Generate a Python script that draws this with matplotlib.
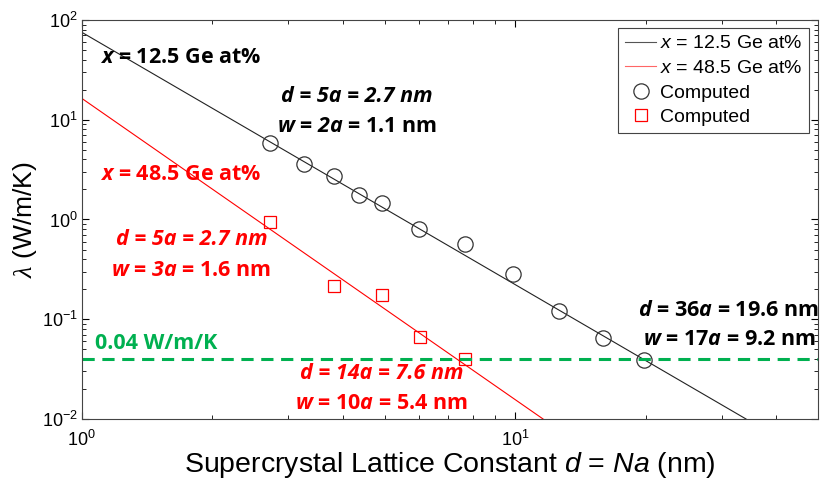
import matplotlib
matplotlib.use('Agg')
import matplotlib.pyplot as plt
from matplotlib.lines import Line2D

plt.rcParams['font.family'] = ['Liberation Sans', 'DejaVu Sans']
plt.rcParams['mathtext.fontset'] = 'custom'
plt.rcParams['mathtext.rm'] = 'Liberation Sans'
plt.rcParams['mathtext.it'] = 'Liberation Serif:italic'
plt.rcParams['mathtext.bf'] = 'Liberation Sans:bold'
plt.rcParams['mathtext.sf'] = 'Open Sans:italic:bold'
plt.rcParams['mathtext.tt'] = 'Liberation Sans:italic'

# computed points, x = 12.5 Ge at%
d_125 = [2.72, 3.26, 3.82, 4.36, 4.92, 6.01, 7.67, 9.89, 12.6, 15.97, 19.8]
k_125 = [5.8, 3.6, 2.7, 1.75, 1.48, 0.80, 0.57, 0.284, 0.121, 0.065, 0.039]
# computed points, x = 48.5 Ge at%
d_485 = [2.72, 3.82, 4.92, 6.03, 7.67]
k_485 = [0.95, 0.217, 0.176, 0.066, 0.040]
# power-law fit lines (end points)
fit_125_d = [1.0, 34.1]
fit_125_k = [75.4, 0.01]
fit_485_d = [1.0, 11.6]
fit_485_k = [16.4, 0.01]
target = 0.04

RED = '#ff0000'
GREEN = '#00b050'

fig = plt.figure(figsize=(8.27, 4.84), dpi=100)
ax = fig.add_axes([0.0988, 0.1343, 0.8904, 0.8244])

ax.plot(fit_125_d, fit_125_k, color='#222222', lw=0.8)
ax.plot(fit_485_d, fit_485_k, color=RED, lw=0.8)
ax.plot(d_125, k_125, 'o', ms=11, mfc='none', mec='#333333', mew=0.9)
ax.plot(d_485, k_485, 's', ms=9, mfc='none', mec=RED, mew=0.9)
ax.axhline(target, color=GREEN, lw=2.2, ls=(0, (4, 2.5)))

ax.set_xscale('log')
ax.set_yscale('log')
ax.set_xlim(1, 50)
ax.set_ylim(1e-2, 1e2)
ax.tick_params(which='both', direction='in', top=True, right=True, labelsize=13)
ax.tick_params(which='major', length=5)
ax.tick_params(which='minor', length=3)
ax.tick_params(axis='x', which='major', pad=8)
ax.tick_params(axis='y', which='major', pad=3)
for s in ax.spines.values():
    s.set_color('#444444')
    s.set_linewidth(0.8)

ax.set_xlabel(r'Supercrystal Lattice Constant $\mathtt{d}$ = $\mathtt{Na}$ (nm)', fontsize=20.5, labelpad=0)
ax.set_ylabel(r'$\lambda$ (W/m/K)', fontsize=19, labelpad=2)

# annotations
kw = dict(transform=ax.transAxes, fontsize=15.5, family='Open Sans', weight='bold', va='center')
ax.text(0.025, 0.907, r'$\mathsf{x}$ = 12.5 Ge at%', color='black', **kw)
ax.text(0.374, 0.809, 'd = 5a = 2.7 nm', color='black', ha='center', style='italic', **kw)
ax.text(0.374, 0.734, r'$\mathsf{w}$ = $\mathsf{2a}$ = 1.1 nm', color='black', ha='center', **kw)
ax.text(0.025, 0.614, r'$\mathsf{x}$ = 48.5 Ge at%', color=RED, **kw)
ax.text(0.149, 0.451, 'd = 5a = 2.7 nm', color=RED, ha='center', style='italic', **kw)
ax.text(0.149, 0.373, r'$\mathsf{w}$ = $\mathsf{3a}$ = 1.6 nm', color=RED, ha='center', **kw)
ax.text(0.018, 0.190, '0.04 W/m/K', color=GREEN, **kw)
ax.text(0.407, 0.115, 'd = 14a = 7.6 nm', color=RED, ha='center', style='italic', **kw)
ax.text(0.407, 0.040, r'$\mathsf{w}$ = 10$\mathsf{a}$ = 5.4 nm', color=RED, ha='center', **kw)
ax.text(0.879, 0.273, r'$\mathsf{d}$ = 36$\mathsf{a}$ = 19.6 nm', color='black', ha='center', **kw)
ax.text(0.879, 0.198, r'$\mathsf{w}$ = 17$\mathsf{a}$ = 9.2 nm', color='black', ha='center', **kw)

handles = [
    Line2D([], [], color='#555555', lw=0.8),
    Line2D([], [], color='#ff6666', lw=0.8),
    Line2D([], [], ls='none', marker='o', ms=11, mfc='none', mec='#333333', mew=0.9),
    Line2D([], [], ls='none', marker='s', ms=9, mfc='none', mec=RED, mew=0.9),
]
labels = [r'$\mathtt{x}$ = 12.5 Ge at%', r'$\mathtt{x}$ = 48.5 Ge at%', 'Computed', 'Computed']
leg = ax.legend(handles, labels, loc='upper right', bbox_to_anchor=(0.988, 0.98),
                borderaxespad=0, fontsize=14, fancybox=False, framealpha=1,
                edgecolor='#444444', handlelength=1.6, handletextpad=0.2,
                labelspacing=0.36, borderpad=0.35)
leg.get_frame().set_linewidth(0.8)

fig.savefig('out.png', dpi=100)
